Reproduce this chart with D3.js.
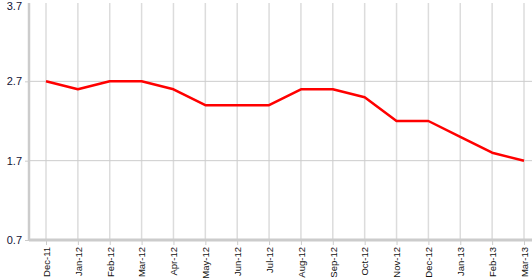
<!DOCTYPE html>
<html>
<head>
<meta charset="utf-8">
<script src="https://cdn.jsdelivr.net/npm/d3@7"></script>
<style>
  body { margin: 0; background: #fff; }
  svg text { font-family: "Liberation Sans", Arial, sans-serif; }
</style>
</head>
<body>
<div id="chart"></div>
<script>
var months = ["Dec-11", "Jan-12", "Feb-12", "Mar-12", "Apr-12", "May-12", "Jun-12", "Jul-12",
              "Aug-12", "Sep-12", "Oct-12", "Nov-12", "Dec-12", "Jan-13", "Feb-13", "Mar-13"];
var values = [2.7, 2.6, 2.7, 2.7, 2.6, 2.4, 2.4, 2.4, 2.6, 2.6, 2.5, 2.2, 2.2, 2.0, 1.8, 1.7];
var yTicks = [0.7, 1.7, 2.7, 3.7];

var width = 532;
var height = 279;

var svg = d3.select("#chart").append("svg")
    .attr("width", width)
    .attr("height", height);

var x = d3.scalePoint().domain(months).range([46, 524]);
var y = d3.scaleLinear().domain([0.7, 3.7]).range([240, 2]);

// vertical grid at each month
svg.append("g")
    .selectAll("line")
    .data(months)
    .enter().append("line")
    .attr("x1", function(d) { return x(d); })
    .attr("x2", function(d) { return x(d); })
    .attr("y1", y(3.7) + 1)
    .attr("y2", y(0.7))
    .attr("stroke", "#dcdcdc")
    .attr("stroke-width", 1.5);

// horizontal grid
svg.append("g")
    .selectAll("line")
    .data(yTicks.slice(1, 3))
    .enter().append("line")
    .attr("x1", 29)
    .attr("x2", width)
    .attr("y1", function(d) { return y(d); })
    .attr("y2", function(d) { return y(d); })
    .attr("stroke", "#cccccc")
    .attr("stroke-width", 1);

// y axis
var yAxis = svg.append("g")
    .attr("transform", "translate(29,0)")
    .call(d3.axisLeft(y).tickValues(yTicks).tickSize(4).tickPadding(3).tickFormat(d3.format(".1f")));
yAxis.select(".domain").attr("stroke", "#cccccc").attr("stroke-width", 2.5)
    .attr("d", "M0," + (y(3.7) + 1) + "V" + y(0.7));
yAxis.selectAll(".tick line").attr("stroke", "#cccccc");
yAxis.selectAll(".tick text").attr("fill", "#111133").style("font-size", "11px");
// keep the top label inside the picture
yAxis.selectAll(".tick").filter(function(d) { return d === 3.7; })
    .select("text").attr("y", 4);
yAxis.selectAll(".tick").filter(function(d) { return d === 3.7; })
    .select("line").remove();

// x axis
var xAxis = svg.append("g")
    .attr("transform", "translate(0," + y(0.7) + ")")
    .call(d3.axisBottom(x).tickSize(5).tickSizeOuter(0));
xAxis.select(".domain").attr("stroke", "#cccccc").attr("stroke-width", 3)
    .attr("d", "M29,0H" + width);
xAxis.selectAll(".tick line").attr("stroke", "#cccccc");
xAxis.selectAll(".tick text")
    .attr("fill", "#111")
    .style("font-size", "9.5px")
    .attr("transform", "rotate(-90)")
    .attr("text-anchor", "end")
    .attr("x", -7)
    .attr("y", 0)
    .attr("dy", "0.35em");

// line
var line = d3.line()
    .x(function(d, i) { return x(months[i]); })
    .y(function(d) { return y(d); });

svg.append("path")
    .datum(values)
    .attr("fill", "none")
    .attr("stroke", "#ff0000")
    .attr("stroke-width", 2.5)
    .attr("stroke-linejoin", "round")
    .attr("d", line);
</script>
</body>
</html>
